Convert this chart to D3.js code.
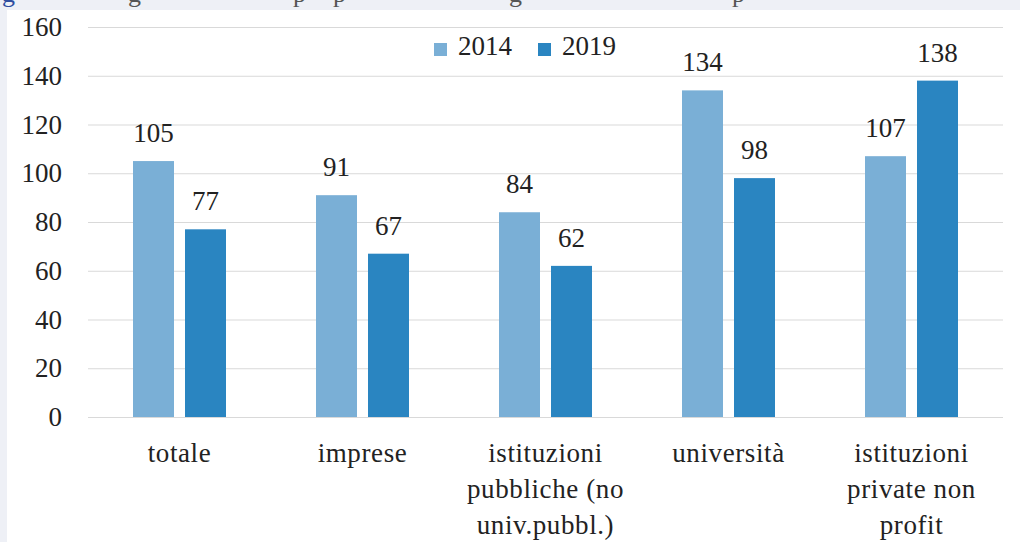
<!DOCTYPE html>
<html><head><meta charset="utf-8">
<script src="https://cdn.jsdelivr.net/npm/d3@7"></script>
<style>html,body{margin:0;padding:0;background:#eef0f6;}svg{display:block;}
svg text{font-family:"Liberation Serif","DejaVu Serif","Noto Serif",serif;}</style>
</head><body>
<svg id="chart" width="1020" height="542"></svg>
<script>
const categories = [
  ["totale"],
  ["imprese"],
  ["istituzioni", "pubbliche (no", "univ.pubbl.)"],
  ["università"],
  ["istituzioni", "private non", "profit"]
];
const seriesNames = ["2014", "2019"];
const values2014 = [105, 91, 84, 134, 107];
const values2019 = [77, 67, 62, 98, 138];
const yTicks = [0, 20, 40, 60, 80, 100, 120, 140, 160];
const colors = ["#7aafd6", "#2a85c1"];
const captionLetters = [["g", 2, "#2f4ea0"], ["g", 128, "#555"], ["p", 293, "#555"], ["p", 333, "#555"], ["g", 509, "#555"], ["p", 732, "#555"]];

const svg = d3.select("#chart");

// cut-off caption behind panel
svg.selectAll("text.cap").data(captionLetters).join("text")
  .attr("class", "cap")
  .attr("x", d => d[1]).attr("y", 2).attr("fill", d => d[2])
  .style("font-size", "26px").text(d => d[0]);

svg.append("rect").attr("x", 7).attr("y", 10).attr("width", 1013).attr("height", 532).attr("fill", "#fff");

const x = d3.scaleBand().domain(d3.range(categories.length)).range([88, 1003]);
const y = d3.scaleLinear().domain([0, 160]).range([417, 27]);
const barW = 41, gap = 11;

// gridlines
svg.append("g").selectAll("line").data(yTicks).join("line")
  .attr("x1", 88).attr("x2", 1003)
  .attr("y1", d => y(d) + 0.5).attr("y2", d => y(d) + 0.5)
  .attr("stroke", "#d9d9d9").attr("stroke-width", 1);

// y axis labels
const yAxis = d3.axisLeft(y).tickValues(yTicks).tickSize(0).tickPadding(0);
const ya = svg.append("g").attr("transform", "translate(62,0)").call(yAxis);
ya.select(".domain").remove();
ya.attr("font-family", null);
ya.selectAll("text").style("font-size", "27px").attr("fill", "#222");

const series = [values2014, values2019];
series.forEach((vals, si) => {
  const g = svg.append("g");
  const xOff = si === 0 ? -(barW + gap / 2) : gap / 2;
  g.selectAll("rect").data(vals).join("rect")
    .attr("x", (d, i) => x(i) + x.bandwidth() / 2 + xOff)
    .attr("y", d => y(d)).attr("width", barW)
    .attr("height", d => y(0) - y(d)).attr("fill", colors[si]);
  g.selectAll("text").data(vals).join("text")
    .attr("x", (d, i) => x(i) + x.bandwidth() / 2 + xOff + barW / 2)
    .attr("y", d => y(d) - 19)
    .attr("text-anchor", "middle").attr("fill", "#222")
    .style("font-size", "27px").text(d => d);
});

// baseline
svg.append("line").attr("x1", 88).attr("x2", 1003).attr("y1", y(0) + 0.5).attr("y2", y(0) + 0.5).attr("stroke", "#d9d9d9");

// category labels
const cl = svg.append("g").selectAll("text").data(categories).join("text")
  .attr("text-anchor", "middle").attr("fill", "#222")
  .style("font-size", "27px").style("letter-spacing", "0.6px");
cl.each(function(lines, i) {
  d3.select(this).selectAll("tspan").data(lines).join("tspan")
    .attr("x", x(i) + x.bandwidth() / 2).attr("y", (d, j) => 462 + j * 36).text(d => d);
});

// legend
const leg = svg.append("g");
const legX = [434, 538];
seriesNames.forEach((name, i) => {
  leg.append("rect").attr("x", legX[i]).attr("y", 43).attr("width", 13).attr("height", 13).attr("fill", colors[i]);
  leg.append("text").attr("x", legX[i] + 24).attr("y", 55).attr("fill", "#222")
    .style("font-size", "27px").text(name);
});
</script>
</body></html>
